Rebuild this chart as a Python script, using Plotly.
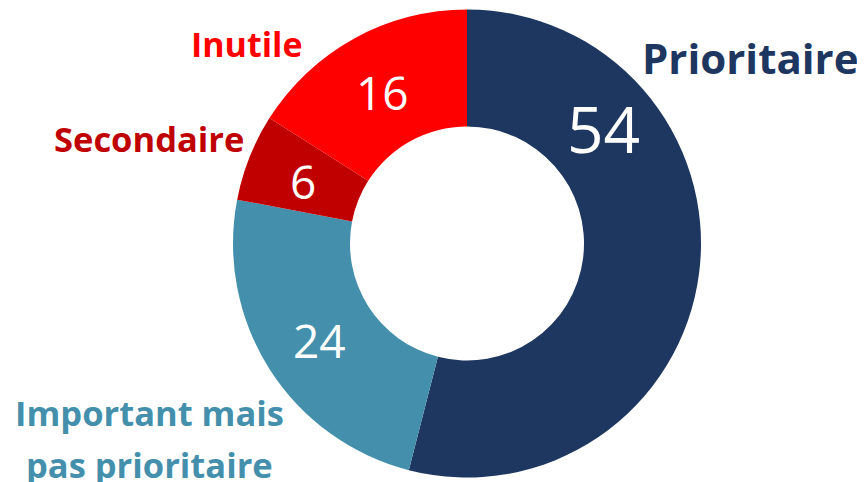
import plotly.graph_objects as go

categories = ["Prioritaire", "Important mais<br>pas prioritaire", "Secondaire", "Inutile"]
values = [54, 24, 6, 16]
colors = ["#1E3760", "#4490AC", "#C00000", "#FF0000"]

W, H = 865, 482
OFF = 8  # page body margin offset (px) compensated so the drawing matches the window
FONT = "Open Sans"


def px2paper(px, py):
    return (px - OFF) / W, 1 - (py - OFF) / H


cx, cy, R = 467 - OFF, 243.5 - OFF, 234
fig = go.Figure(go.Pie(
    labels=categories,
    values=values,
    hole=0.5,
    sort=False,
    direction="clockwise",
    rotation=0,
    textinfo="none",
    hoverinfo="label+value",
    marker=dict(colors=colors, line=dict(width=0)),
    domain=dict(x=[(cx - R) / W, (cx + R) / W],
                y=[(H - cy - R) / H, (H - cy + R) / H]),
    showlegend=False,
))

# value labels: (x, y, size) in window pixels
value_pos = [(603, 128, 64), (319, 340, 46), (303, 181, 46), (382, 92, 46)]
# category labels: one (x, y, size) per text line
label_pos = [[(750, 58, 42)],
             [(149, 412, 34.5), (149, 464, 34.5)],
             [(149, 139, 34.5)],
             [(247, 44, 34)]]

ann = []
for v, (px, py, fs) in zip(values, value_pos):
    x, y = px2paper(px, py)
    ann.append(dict(x=x, y=y, xref="paper", yref="paper",
                    text=str(v), showarrow=False,
                    font=dict(family=FONT, size=fs, color="white"),
                    xanchor="center", yanchor="middle"))
for c, col, lines in zip(categories, colors, label_pos):
    for t, (px, py, fs) in zip(c.split("<br>"), lines):
        x, y = px2paper(px, py)
        ann.append(dict(x=x, y=y, xref="paper", yref="paper",
                        text="<b>" + t + "</b>", showarrow=False,
                        font=dict(family=FONT, size=fs, color=col),
                        xanchor="center", yanchor="middle"))

fig.update_layout(
    width=W, height=H,
    margin=dict(l=0, r=0, t=0, b=0),
    paper_bgcolor="white", plot_bgcolor="white",
    annotations=ann,
)

fig.write_html("out.html")
